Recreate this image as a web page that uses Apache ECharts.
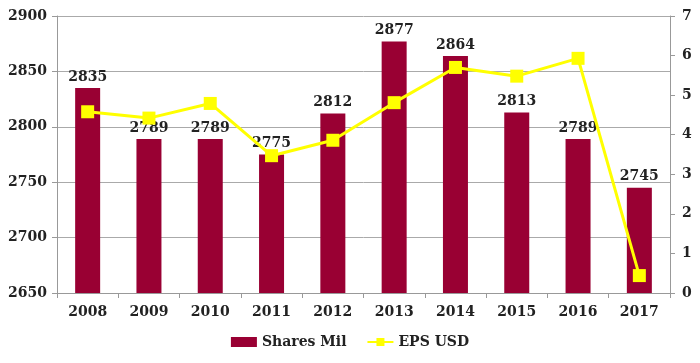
<!DOCTYPE html>
<html><head><meta charset="utf-8">
<script src="https://cdn.jsdelivr.net/npm/echarts@6/dist/echarts.min.js"></script>
<style>html,body{margin:0;padding:0;background:#fff}#c{width:700px;height:363px}</style>
</head><body><div id="c"></div>
<script>
const years = ['2008','2009','2010','2011','2012','2013','2014','2015','2016','2017'];
const sharesMil = [2835,2789,2789,2775,2812,2877,2864,2813,2789,2745];
const epsUsd = [4.58,4.42,4.79,3.47,3.86,4.81,5.70,5.48,5.93,0.44];
const leftTicks = {min:2650,max:2900,interval:50};
const rightTicks = {min:0,max:7,interval:1};

const font = 'DejaVu Serif';
const chart = echarts.init(document.getElementById('c'));
chart.setOption({
  animation:false,
  grid:{left:57,right:30,top:16,bottom:70},
  legend:{bottom:9,left:'center',itemGap:20,
    textStyle:{fontFamily:font,fontWeight:'bold',fontSize:14,color:'#222'},
    data:[{name:'Shares Mil',icon:'rect'},{name:'EPS USD'}],
    itemWidth:26,itemHeight:10},
  xAxis:{type:'category',data:years,
    axisLine:{lineStyle:{color:'#999'}},
    axisTick:{show:true,alignWithLabel:false,lineStyle:{color:'#999'}},
    axisLabel:{fontFamily:font,fontWeight:'bold',fontSize:14,color:'#222',margin:12}},
  yAxis:[
    {type:'value',min:leftTicks.min,max:leftTicks.max,interval:leftTicks.interval,
     axisLine:{show:true,lineStyle:{color:'#999'}},axisTick:{show:true,lineStyle:{color:'#999'}},
     splitLine:{lineStyle:{color:'#aaa'}},
     axisLabel:{fontFamily:font,fontWeight:'bold',fontSize:14,color:'#222',margin:10,formatter:v=>String(v)}},
    {type:'value',min:rightTicks.min,max:rightTicks.max,interval:rightTicks.interval,
     axisLine:{show:true,lineStyle:{color:'#999'}},axisTick:{show:true,lineStyle:{color:'#999'}},
     splitLine:{show:false},
     axisLabel:{fontFamily:font,fontWeight:'bold',fontSize:14,color:'#222',margin:12}}
  ],
  series:[
    {name:'Shares Mil',type:'bar',data:sharesMil,barWidth:25,
     itemStyle:{color:'#990033'},
     label:{show:true,position:'top',distance:4,fontFamily:font,fontWeight:'bold',fontSize:14,color:'#222'}},
    {name:'EPS USD',type:'line',yAxisIndex:1,data:epsUsd,
     symbol:'rect',symbolSize:13,
     lineStyle:{color:'#ffff00',width:3},
     itemStyle:{color:'#ffff00'}}
  ]
});
</script></body></html>
